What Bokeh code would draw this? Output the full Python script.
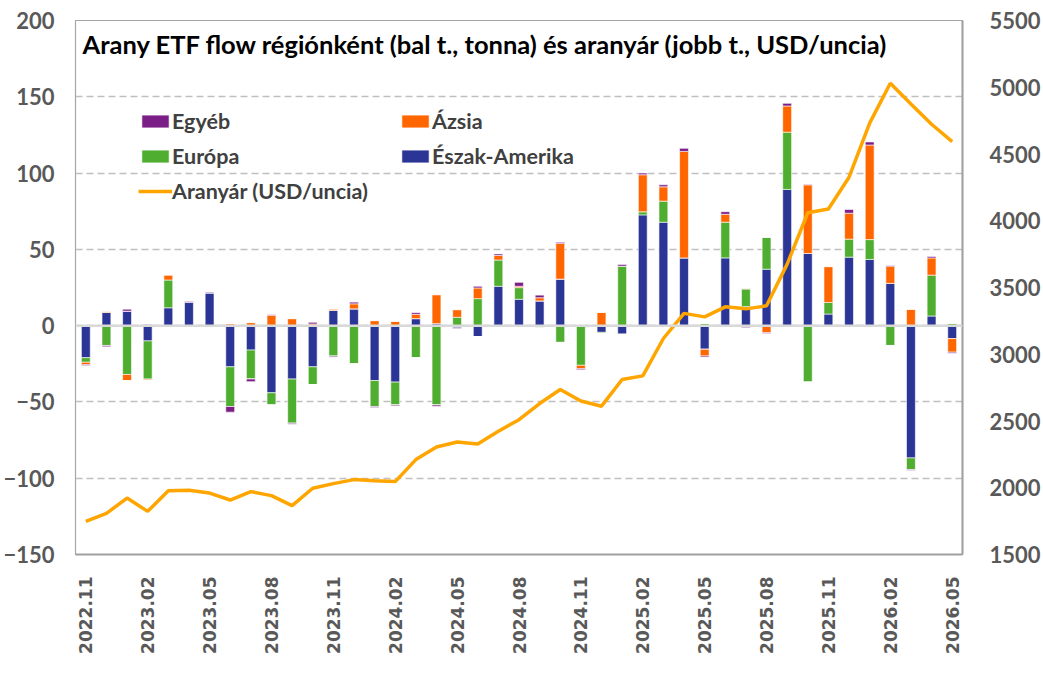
import numpy as np
from bokeh.plotting import figure
from bokeh.models import (ColumnDataSource, Range1d, LinearAxis, FixedTicker, Legend,
                          LegendItem, Span, Label)
from bokeh.embed import file_html
from bokeh.resources import INLINE

months = ["2022.11", "2022.12",
          "2023.01", "2023.02", "2023.03", "2023.04", "2023.05", "2023.06",
          "2023.07", "2023.08", "2023.09", "2023.10", "2023.11", "2023.12",
          "2024.01", "2024.02", "2024.03", "2024.04", "2024.05", "2024.06",
          "2024.07", "2024.08", "2024.09", "2024.10", "2024.11", "2024.12",
          "2025.01", "2025.02", "2025.03", "2025.04", "2025.05", "2025.06",
          "2025.07", "2025.08", "2025.09", "2025.10", "2025.11", "2025.12",
          "2026.01", "2026.02", "2026.03", "2026.04", "2026.05"]

north_america = [-21, 8.6, 9.5, -10, 11.7, 15.2, 21.5, -27, -16, -44, -35, -27, 10, 11,
                 -36, -37, 4.6, 1.3, -1.7, -7.2, 25.8, 17.3, 16.2, 30.5, 0.8, -4.4,
                 -5.7, 72.6, 67.8, 44.4, -15.5, 44.4, 12.5, 37, 89.3, 47.3, 7.6, 44.9,
                 43.4, 27.7, -86.7, 6.3, -8.5]
europe = [-3, -13, -32, -25, 18.2, 0, -1, -26, -19, -8, -29, -11.6, -20, -25,
          -17, -15, -21, -52, 5.5, 17.7, 17.2, 7.6, -1.5, -11, -26, -0.7,
          39, 2, 13.8, 0, 1.5, 23.4, 11.5, 21, 37.5, -37, 7.6, 11.8,
          13, -13, -7.6, 26.8, 1.5]
asia = [-1.5, 0.8, -4, -0.7, 3.3, 0, 0, 1.3, 2, 6.8, 4.6, 1.1, 0.9, 3.3,
        3.3, 2.8, 2.8, 19, 5, 7, 3, 0.9, 2.1, 23.4, -2.2, 8.7,
        0, 24.3, 9.4, 69.8, -4.4, 5.2, 0.5, -4.6, 17.2, 45, 23.5, 17,
        62, 11.3, 10.7, 11.3, -8.9]
other = [-0.7, -0.8, 1.3, 0.8, -0.7, 0.7, 0.5, -3.7, -1.7, 0.4, -0.6, 1.1, -0.6, 1.1,
         -0.7, -0.6, 1.1, -0.9, -0.4, 1.1, 1, 2.6, 1.7, 0.7, -0.7, 0,
         1.1, 1.1, 1.3, 2, -0.7, 1.7, -1.3, -0.5, 1.7, 0.4, 0, 2.4,
         2, 0.4, -0.4, 0.9, -0.7]
gold_price = [1748, 1808, 1923, 1823, 1978, 1981, 1960, 1908, 1971, 1941, 1866, 1996,
              2031, 2061, 2053, 2046, 2211, 2305, 2343, 2328, 2423, 2510, 2631, 2736,
              2650, 2611, 2811, 2838, 3118, 3306, 3280, 3355, 3340, 3363, 3675, 4060,
              4088, 4326, 4731, 5030, 4875, 4723, 4593]

left_ticks = [-150, -100, -50, 0, 50, 100, 150, 200]
right_ticks = [1500, 2000, 2500, 3000, 3500, 4000, 4500, 5000, 5500]

series_names = ["Észak-Amerika", "Európa", "Ázsia", "Egyéb"]
series_colors = ["#2B3595", "#4FAD2F", "#FF6600", "#7B1F86"]

x = list(range(len(months)))
data = {"x": x, "gold": gold_price}
keys = ["na", "eu", "as", "ot"]
for k, vals in zip(keys, [north_america, europe, asia, other]):
    a = np.array(vals, dtype=float)
    data[k + "_pos"] = np.clip(a, 0, None)
    data[k + "_neg"] = np.clip(a, None, 0)
src = ColumnDataSource(data)

FONT = "Lato"
GRAY = "#595959"

p = figure(width=1043, height=681, x_range=Range1d(-0.5, len(months) - 0.5),
           y_range=Range1d(-150, 200), output_backend="svg", toolbar_location=None,
           min_border_left=72, min_border_right=76, min_border_top=20,
           min_border_bottom=127)
p.title.visible = False
p.background_fill_color = "white"
p.border_fill_color = "white"
p.outline_line_color = "#A6A6A6"
p.outline_line_width = 1.2

p.extra_y_ranges = {"gold": Range1d(1500, 5500)}

# grid
p.xgrid.visible = False
p.ygrid.ticker = FixedTicker(ticks=left_ticks)
p.ygrid.grid_line_color = "#BFBFBF"
p.ygrid.grid_line_dash = "7 4"
p.ygrid.grid_line_width = 1.5
p.add_layout(Span(location=0, dimension="width", line_color="#D9D9D9", line_width=2.5))

bw = 0.43
pos_r = p.vbar_stack([k + "_pos" for k in keys], x="x", width=bw, color=series_colors,
                     line_color="white", line_width=0.6, source=src)
neg_r = p.vbar_stack([k + "_neg" for k in keys], x="x", width=bw, color=series_colors,
                     line_color="white", line_width=0.6, source=src)

gold_r = p.line("x", "gold", source=src, y_range_name="gold", line_color="#FFA500",
                line_width=3.5)

# axes
xa = p.xaxis[0]
xa.ticker = FixedTicker(ticks=list(range(0, len(months), 3)))
xa.major_label_overrides = {i: months[i] for i in range(0, len(months), 3)}
xa.major_label_orientation = np.pi / 2
xa.major_label_text_font = "DejaVu Sans"
xa.major_label_text_font_style = "bold"
xa.major_label_text_font_size = "17px"
xa.major_label_text_color = GRAY
xa.major_label_standoff = 16
xa.axis_line_color = "#A0A0A0"
xa.axis_line_width = 2
xa.major_tick_line_color = None
xa.minor_tick_line_color = None

ya = p.yaxis[0]
ya.ticker = FixedTicker(ticks=left_ticks)
ya.major_label_text_font = FONT
ya.major_label_text_font_style = "bold"
ya.major_label_text_font_size = "22px"
ya.major_label_text_color = GRAY
ya.major_label_standoff = 15
ya.axis_line_color = None
ya.major_tick_line_color = None
ya.minor_tick_line_color = None

ra = LinearAxis(y_range_name="gold", ticker=FixedTicker(ticks=right_ticks))
ra.major_label_text_font = FONT
ra.major_label_text_font_style = "bold"
ra.major_label_text_font_size = "22px"
ra.major_label_text_color = GRAY
ra.major_label_standoff = 21
ra.axis_line_color = "#A0A0A0"
ra.axis_line_width = 2
ra.major_tick_line_color = None
ra.minor_tick_line_color = None
p.add_layout(ra, "right")

# title inside the frame
p.add_layout(Label(x=7, y=511, x_units="screen", y_units="screen",
                   text="Arany ETF flow régiónként (bal t., tonna) és aranyár (jobb t., USD/uncia)",
                   text_font=FONT, text_font_style="bold", text_font_size="25.5px",
                   text_color="black", text_baseline="middle"))

# legends
def style_legend(lg):
    lg.label_text_font = FONT
    lg.label_text_font_style = "bold"
    lg.label_text_font_size = "21.5px"
    lg.label_text_color = "#404040"
    lg.glyph_width = 34
    lg.glyph_height = 16
    lg.label_height = 26
    lg.label_standoff = 0
    lg.spacing = 9
    lg.padding = 0
    lg.margin = 0
    lg.border_line_color = None
    lg.background_fill_alpha = 0

leg1 = Legend(items=[LegendItem(label=series_names[3], renderers=[pos_r[3]]),
                     LegendItem(label=series_names[1], renderers=[pos_r[1]]),
                     LegendItem(label="Aranyár (USD/uncia)", renderers=[gold_r])],
              location=(63, 350))
leg2 = Legend(items=[LegendItem(label=series_names[2], renderers=[pos_r[2]]),
                     LegendItem(label=series_names[0], renderers=[pos_r[0]])],
              location=(323, 385))
style_legend(leg1)
style_legend(leg2)
p.add_layout(leg1)
p.add_layout(leg2)

open("out.html", "w").write(file_html(p, INLINE))
